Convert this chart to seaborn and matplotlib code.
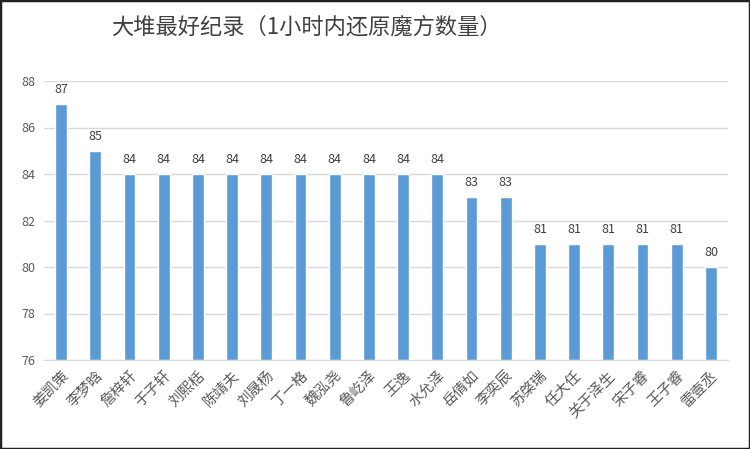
import matplotlib
matplotlib.use("Agg")
import matplotlib.pyplot as plt
import seaborn as sns
import pandas as pd
from matplotlib.patches import Rectangle

names = ['姜凯策', '李梦晗', '詹梓轩', '于子轩', '刘熙栝', '陈靖夫', '刘晟杨', '丁一格', '魏泓尧', '鲁屹泽',
         '王逸', '水允泽', '岳倩如', '李奕辰', '苏棨瑞', '任大任', '关于泽生', '宋子睿', '王子睿', '雷壹丞']
scores = [87, 85, 84, 84, 84, 84, 84, 84, 84, 84,
          84, 84, 83, 83, 81, 81, 81, 81, 81, 80]
y_ticks = [76, 78, 80, 82, 84, 86, 88]

sns.set_style("white")
plt.rcParams['font.family'] = ['Noto Sans CJK SC', 'DejaVu Sans']

df = pd.DataFrame({'name': names, 'score': scores})

fig = plt.figure(figsize=(7.5, 4.49), dpi=100)
ax = fig.add_axes([44 / 750, 1 - 360 / 449, (728 - 44) / 750, (360 - 81) / 449])

sns.barplot(data=df, x='name', y='score', color='#5B9BD5', saturation=1,
            width=0.35, ax=ax)
for p, v in zip(ax.patches, scores):
    p.set_y(76)
    p.set_height(v - 76)
    ax.text(p.get_x() + p.get_width() / 2, v + 0.35, str(v), ha='center', va='bottom',
            fontsize=9, color='#404040')

ax.set_ylim(76, 88)
ax.set_yticks(y_ticks)
ax.set_yticklabels([str(t) for t in y_ticks], fontsize=9, color='#595959')
ax.set_xlabel('')
ax.set_ylabel('')
ax.set_xticks(range(len(names)))
ax.set_xticklabels(names, rotation=45, ha='right', rotation_mode='anchor',
                   fontsize=10.5, color='#595959')
ax.tick_params(axis='both', length=0, pad=6)
ax.grid(axis='y', color='#D9D9D9', linewidth=1)
ax.set_axisbelow(True)
for s in ['top', 'right', 'left']:
    ax.spines[s].set_visible(False)
ax.spines['bottom'].set_color('#D9D9D9')

fig.text(306 / 750, 1 - 27 / 449, '大堆最好纪录（1小时内还原魔方数量）', ha='center', va='center',
         fontsize=16, color='#404040', fontweight='medium')

fig.patches.append(Rectangle((0, 0), 1, 1, transform=fig.transFigure, fill=False,
                             edgecolor='#222222', linewidth=2.5))

fig.savefig('out.png', dpi=100)
